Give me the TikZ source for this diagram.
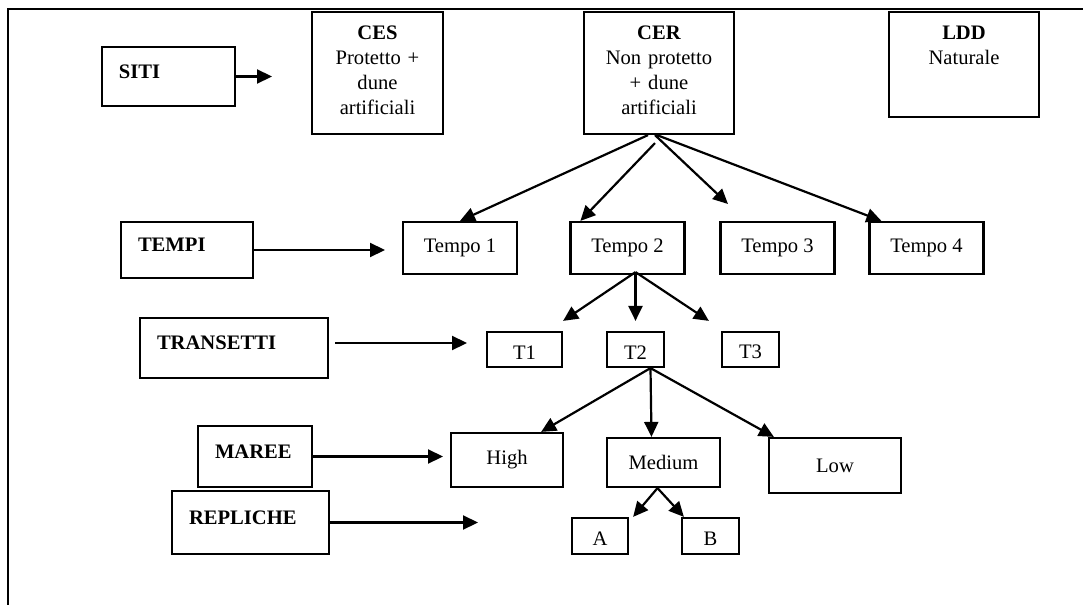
\documentclass[tikz,border=0pt]{standalone}
\usepackage{fontspec}
\setmainfont{Liberation Serif}
\usetikzlibrary{arrows.meta}

\begin{document}
\begin{tikzpicture}
  [x=0.5pt, y=-0.5pt,
   box/.style={draw, line width=1.1pt, inner sep=0pt, font=\fontsize{10.3}{12.5}\selectfont},
   catbox/.style={box, font=\fontsize{10.3}{12.5}\selectfont\bfseries, align=left, inner xsep=8.5pt, text depth=5pt},
   sitebox/.style={box, align=center, text width=#1},
   tempobox/.style={box, minimum width=57pt, minimum height=26pt},
   smallbox/.style={box, text height=9.5pt},
   arr/.style={-{Triangle[length=7.5pt,width=7pt]}, line width=1.1pt}]
  \useasboundingbox (0,0) rectangle (1083,605);
  \draw[line width=1.1pt] (1083,9) -- (8,9) -- (8,605);

  \node[catbox, text width=49.5pt, minimum height=29.5pt] (siti) at (168.5,76.5) {SITI};
  \node[sitebox=65.5pt, minimum height=61pt, text depth=40pt] (ces) at (377.5,73) {\textbf{CES}\\Protetto +\\dune\\artificiali};
  \node[sitebox=75pt, minimum height=61pt, text depth=40pt] (cer) at (659,73) {\textbf{CER}\\Non protetto\\+ dune\\artificiali};
  \node[sitebox=75pt, minimum height=52.5pt, text depth=31.5pt] (ldd) at (964,64.5) {\textbf{LDD}\\Naturale};

  \node[catbox, text width=49pt, minimum height=28pt] (tempi) at (187,250) {TEMPI};
  \node[tempobox] (tempo1) at (460,248) {Tempo 1};
  \node[tempobox] (tempo2) at (627.5,248) {Tempo 2};
  \node[tempobox] (tempo3) at (777.5,248) {Tempo 3};
  \node[tempobox] (tempo4) at (926.5,248) {Tempo 4};

  \node[catbox, text width=77pt, minimum height=30pt] (transetti) at (234,348) {TRANSETTI};
  \node[smallbox, minimum width=37.5pt, minimum height=17.5pt] (tr1) at (524.5,349.5) {T1};
  \node[smallbox, minimum width=28.5pt, minimum height=17.5pt] (tr2) at (635.5,349.5) {T2};
  \node[smallbox, minimum width=28.5pt, minimum height=17.5pt] (tr3) at (750.5,349.5) {T3};

  \node[catbox, text width=40pt, minimum height=30.5pt] (maree) at (255,456.5) {MAREE};
  \node[box, minimum width=56pt, minimum height=27pt] (high) at (507,460) {High};
  \node[box, minimum width=56.5pt, minimum height=24.5pt] (medium) at (663.5,462.5) {Medium};
  \node[box, minimum width=66pt, minimum height=27.5pt] (low) at (835,465.5) {Low};

  \node[catbox, text width=61.5pt, minimum height=31.5pt] (repliche) at (250.5,522.5) {REPLICHE};
  \node[smallbox, minimum width=28pt, minimum height=18pt] (repA) at (600,536) {A};
  \node[smallbox, minimum width=28.5pt, minimum height=18pt] (repB) at (710.5,536) {B};

  \coordinate (sitiend) at (272,76.5);
  \coordinate (tempiend) at (385,250);
  \coordinate (transend) at (467,343);
  \coordinate (mareeend) at (443,456.5);
  \coordinate (replend) at (478,522.5);
  \coordinate (tempo3end) at (728,204);

  \draw[arr] (siti.east) -- (sitiend);
  \draw[arr] (tempi.east) -- (tempiend);
  \draw[arr, shorten <=3pt] (transetti.east |- transend) -- (transend);
  \draw[arr] (maree.east) -- (mareeend);
  \draw[arr] (repliche.east) -- (replend);

  \draw[arr] ([xshift=-5.5pt]cer.south) -- (tempo1.north);
  \draw[arr] ([shift={(-2pt,-4pt)}]cer.south) -- ([xshift=5.5pt]tempo2.north west);
  \draw[arr] ([xshift=-2pt]cer.south) -- (tempo3end);
  \draw[arr] ([xshift=-1pt]cer.south) -- ([xshift=6.5pt]tempo4.north west);

  \draw[arr] ([shift={(4pt,1.5pt)}]tempo2.south) -- ([yshift=5pt]tr1.north east);
  \draw[arr] ([shift={(4pt,1.5pt)}]tempo2.south) -- ([yshift=5pt]tr2.north);
  \draw[arr] ([shift={(4pt,1.5pt)}]tempo2.south) -- ([shift={(-6pt,5pt)}]tr3.north west);

  \draw[arr] ([xshift=7.5pt]tr2.south) -- ([xshift=-11.5pt]high.north east);
  \draw[arr] ([xshift=7.5pt]tr2.south) -- ([xshift=-6pt]medium.north);
  \draw[arr] ([xshift=7.5pt]tr2.south) -- ([xshift=3pt]low.north west);

  \draw[arr] ([xshift=-3pt]medium.south) -- ([xshift=2pt]repA.north east);
  \draw[arr] ([xshift=-3pt]medium.south) -- ([xshift=1.5pt]repB.north west);
\end{tikzpicture}
\end{document}
